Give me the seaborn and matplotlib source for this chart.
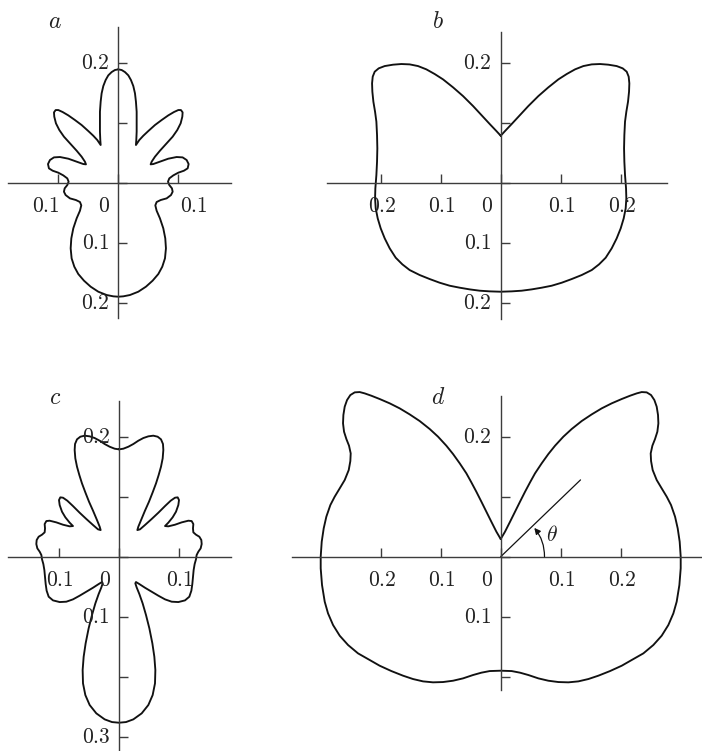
import matplotlib
matplotlib.use("Agg")
import matplotlib.pyplot as plt
import seaborn as sns
from matplotlib.transforms import ScaledTranslation

# ---------------- data (right half of each symmetric pattern) -------------
a_x = [0.0, 0.0056, 0.0111, 0.0167, 0.0211, 0.025, 0.0278, 0.0294, 0.0306, 0.0306, 0.0306, 0.03,
       0.0294, 0.035, 0.0417, 0.05, 0.0611, 0.0722, 0.0833, 0.0928, 0.1, 0.1044, 0.1072, 0.1067,
       0.1039, 0.0983, 0.0906, 0.0806, 0.0694, 0.0611, 0.0556, 0.0539, 0.0583, 0.0694, 0.0833,
       0.0972, 0.1072, 0.1139, 0.1172, 0.1156, 0.1094, 0.1, 0.0917, 0.085, 0.0828, 0.085, 0.0894,
       0.0906, 0.0878, 0.0806, 0.0706, 0.0639, 0.0617, 0.0639, 0.0694, 0.075, 0.0783, 0.0794,
       0.0778, 0.0733, 0.0667, 0.0572, 0.0461, 0.0333, 0.0194, 0.0083, 0.0]
a_y = [0.1889, 0.1878, 0.1844, 0.1789, 0.1711, 0.1611, 0.1489, 0.135, 0.1183, 0.1017, 0.085,
       0.0711, 0.0628, 0.0711, 0.0783, 0.0861, 0.0961, 0.1044, 0.1122, 0.1178, 0.1211, 0.1211,
       0.1172, 0.11, 0.0989, 0.0878, 0.0767, 0.0656, 0.0533, 0.0433, 0.035, 0.0306, 0.0311, 0.035,
       0.04, 0.0428, 0.0422, 0.0378, 0.0311, 0.0239, 0.02, 0.0167, 0.0122, 0.0072, 0.0017, -0.0039,
       -0.0094, -0.015, -0.0206, -0.0261, -0.0289, -0.0322, -0.0378, -0.0467, -0.0594, -0.0761,
       -0.0928, -0.1094, -0.1261, -0.14, -0.1522, -0.1633, -0.1733, -0.1817, -0.1872, -0.1894,
       -0.19]

b_x = [0.0, 0.0072, 0.0183, 0.0322, 0.0461, 0.0628, 0.0794, 0.0961, 0.11, 0.1239, 0.1378, 0.1517,
       0.1656, 0.1794, 0.1933, 0.2033, 0.21, 0.2133, 0.2144, 0.2139, 0.2122, 0.2094, 0.2072,
       0.2061, 0.2056, 0.2061, 0.2072, 0.2089, 0.2094, 0.2083, 0.205, 0.2, 0.1933, 0.185, 0.175,
       0.1639, 0.1517, 0.135, 0.1183, 0.1017, 0.085, 0.0683, 0.0517, 0.035, 0.0183, 0.0]
b_y = [0.0783, 0.0861, 0.0978, 0.1128, 0.1278, 0.1444, 0.1589, 0.1722, 0.1811, 0.1889, 0.1944,
       0.1972, 0.1978, 0.1967, 0.1944, 0.1906, 0.185, 0.1767, 0.1656, 0.1517, 0.135, 0.1183,
       0.1017, 0.0794, 0.0572, 0.035, 0.0128, -0.0094, -0.0261, -0.0428, -0.0594, -0.0761,
       -0.0928, -0.1094, -0.125, -0.1361, -0.1456, -0.1539, -0.1606, -0.1667, -0.1717, -0.175,
       -0.1778, -0.18, -0.1811, -0.1817]

c_x = [0.0, 0.0072, 0.0156, 0.0239, 0.0322, 0.0406, 0.0489, 0.0572, 0.0644, 0.07, 0.0733, 0.0739,
       0.0728, 0.07, 0.0661, 0.0617, 0.0561, 0.05, 0.0433, 0.0367, 0.0322, 0.0306, 0.035, 0.0433,
       0.0544, 0.0656, 0.0767, 0.0861, 0.0933, 0.0978, 0.1, 0.0989, 0.095, 0.0894, 0.0822, 0.0767,
       0.0822, 0.0933, 0.1044, 0.1156, 0.1211, 0.1239, 0.1233, 0.1239, 0.1283, 0.1339, 0.1372,
       0.1378, 0.1361, 0.1322, 0.1294, 0.1283, 0.1261, 0.1244, 0.1233, 0.1222, 0.1206, 0.1172,
       0.11, 0.0989, 0.0878, 0.0767, 0.0656, 0.0544, 0.0433, 0.0339, 0.0283, 0.0272, 0.0294,
       0.0339, 0.0394, 0.045, 0.0506, 0.0556, 0.0589, 0.0606, 0.06, 0.0561, 0.0489, 0.0378,
       0.0239, 0.0117, 0.0]
c_y = [0.1789, 0.18, 0.1833, 0.1878, 0.1933, 0.1978, 0.2006, 0.2017, 0.2, 0.1956, 0.1878, 0.1778,
       0.1639, 0.15, 0.1361, 0.1222, 0.1072, 0.0917, 0.0767, 0.0611, 0.05, 0.0444, 0.0456, 0.0528,
       0.0628, 0.0733, 0.0844, 0.0933, 0.0983, 0.0989, 0.0944, 0.0861, 0.075, 0.0656, 0.0567,
       0.0511, 0.0506, 0.0533, 0.0572, 0.06, 0.0594, 0.0544, 0.0472, 0.0406, 0.0367, 0.0333,
       0.0278, 0.0211, 0.0139, 0.0083, 0.0028, -0.0044, -0.0122, -0.0222, -0.0333, -0.0456,
       -0.0567, -0.0667, -0.0728, -0.0756, -0.075, -0.0711, -0.065, -0.0583, -0.0517, -0.0456,
       -0.0422, -0.0444, -0.0511, -0.0622, -0.0778, -0.0972, -0.1194, -0.1444, -0.1667, -0.1889,
       -0.2111, -0.2306, -0.2472, -0.2611, -0.2711, -0.2756, -0.2767]

d_x = [0.0, 0.0072, 0.0156, 0.0239, 0.0322, 0.0406, 0.0489, 0.0572, 0.0683, 0.0794, 0.0906,
       0.1044, 0.1183, 0.135, 0.1517, 0.1683, 0.185, 0.2017, 0.2156, 0.2267, 0.235, 0.2433, 0.2506,
       0.2561, 0.26, 0.2622, 0.2628, 0.2611, 0.2572, 0.2528, 0.25, 0.2506, 0.2533, 0.26, 0.2683,
       0.2767, 0.2839, 0.2906, 0.295, 0.2983, 0.3, 0.3, 0.2978, 0.2933, 0.2878, 0.2794, 0.2683,
       0.2544, 0.2378, 0.2183, 0.2017, 0.1822, 0.1628, 0.1461, 0.1294, 0.1128, 0.0961, 0.0794,
       0.0628, 0.0461, 0.0322, 0.0183, 0.0]
d_y = [0.0294, 0.0417, 0.0583, 0.075, 0.0917, 0.1083, 0.1239, 0.1389, 0.1556, 0.1711, 0.185, 0.2,
       0.2128, 0.2261, 0.2372, 0.2472, 0.2556, 0.2628, 0.2683, 0.2722, 0.2744, 0.2739, 0.2694,
       0.2611, 0.25, 0.2361, 0.2222, 0.2083, 0.1961, 0.185, 0.1722, 0.1594, 0.1444, 0.1278, 0.1139,
       0.1, 0.0861, 0.0667, 0.0472, 0.025, 0.0, -0.0194, -0.0472, -0.075, -0.0944, -0.1139,
       -0.1317, -0.1472, -0.1611, -0.1722, -0.1817, -0.1906, -0.1983, -0.2039, -0.2078, -0.2094,
       -0.2089, -0.2067, -0.2028, -0.1972, -0.1933, -0.1906, -0.19]

# angle marker in panel d
theta_line_x = [0.0, 0.133]
theta_line_y = [0.0, 0.128]
theta_arc_start = (0.073, 0.0)
theta_arc_end = (0.056, 0.048)
theta_text_pos = (0.086, 0.036)

# ticks and labels
panel_names = ["a", "b", "c", "d"]
a_xticks = [-0.1, 0.0, 0.1]
a_yticks = [-0.2, -0.1, 0.0, 0.1, 0.2]
b_xticks = [-0.2, -0.1, 0.0, 0.1, 0.2]
b_yticks = [-0.2, -0.1, 0.0, 0.1, 0.2]
c_xticks = [-0.1, 0.0, 0.1]
c_yticks = [-0.3, -0.2, -0.1, 0.0, 0.1, 0.2]
d_xticks = [-0.2, -0.1, 0.0, 0.1, 0.2]
d_yticks = [-0.2, -0.1, 0.0, 0.1, 0.2]

a_xlabels = [(-0.1, "0.1"), (0.1, "0.1")]
a_ylabels = [(0.2, "0.2"), (-0.1, "0.1"), (-0.2, "0.2")]
b_xlabels = [(-0.2, "0.2"), (-0.1, "0.1"), (0.1, "0.1"), (0.2, "0.2")]
b_ylabels = [(0.2, "0.2"), (-0.1, "0.1"), (-0.2, "0.2")]
c_xlabels = [(-0.1, "0.1"), (0.1, "0.1")]
c_ylabels = [(0.2, "0.2"), (-0.1, "0.1"), (-0.3, "0.3")]
d_xlabels = [(-0.2, "0.2"), (-0.1, "0.1"), (0.1, "0.1"), (0.2, "0.2")]
d_ylabels = [(0.2, "0.2"), (-0.1, "0.1")]
zero_label = "0"

# ---------------- style / layout ----------------
sns.set_style("white")
plt.rcParams["font.family"] = ["DejaVu Serif"]
plt.rcParams["mathtext.fontset"] = "cm"

W, H, DPI = 702, 751, 100
SCALE = 600.0          # pixels per data unit
AXC = "#3c3c3c"
FS = 15.5
fig = plt.figure(figsize=(W / DPI, H / DPI), dpi=DPI)


def mirror(rx, ry):
    xs = list(rx) + [-v for v in rx[::-1][1:]]
    ys = list(ry) + list(ry[::-1][1:])
    return xs, ys


def off(ax, dx, dy):
    return ax.transData + ScaledTranslation(dx / DPI, dy / DPI, fig.dpi_scale_trans)


def make_axes(origin, xlim, ylim, xticks, yticks):
    ox, oy = origin
    l = ox + xlim[0] * SCALE
    r = ox + xlim[1] * SCALE
    t = oy - ylim[1] * SCALE
    b = oy - ylim[0] * SCALE
    ax = fig.add_axes([l / W, 1 - b / H, (r - l) / W, (b - t) / H])
    ax.set_xlim(xlim)
    ax.set_ylim(ylim)
    ax.patch.set_alpha(0)
    for s in ["top", "right"]:
        ax.spines[s].set_visible(False)
    for s in ["left", "bottom"]:
        ax.spines[s].set_position(("data", 0))
        ax.spines[s].set_color(AXC)
        ax.spines[s].set_linewidth(1.0)
    ax.set_xticks(xticks)
    ax.set_yticks(yticks)
    ax.tick_params(direction="in", length=6.8, width=1.0, color=AXC,
                   bottom=True, left=True, labelbottom=False, labelleft=False)
    ax.grid(False)
    return ax


def curve(ax, rx, ry):
    xs, ys = mirror(rx, ry)
    sns.lineplot(x=xs, y=ys, sort=False, estimator=None, ax=ax, color="#111111",
                 linewidth=1.35, clip_on=False, solid_joinstyle="round",
                 solid_capstyle="round")


def labels(ax, xl, yl, xl_align="center", xl_dx=()):
    for i, (v, s) in enumerate(xl):
        ha = xl_align if isinstance(xl_align, str) else xl_align[i]
        dx = xl_dx[i] if len(xl_dx) > i else 0
        ax.text(v, 0, f"${s}$", transform=off(ax, dx, -12), ha=ha, va="top",
                fontsize=FS, color="#222222", clip_on=False)
    ax.text(0, 0, f"${zero_label}$", transform=off(ax, -8, -12), ha="right", va="top",
            fontsize=FS, color="#222222", clip_on=False)
    for v, s in yl:
        ax.text(0, v, f"${s}$", transform=off(ax, -9, 0), ha="right", va="center",
                fontsize=FS, color="#222222", clip_on=False)


def panel_label(ax, name, x, y):
    ax.text(x, y, f"${name}$", fontsize=17, ha="center", va="center",
            color="#222222", clip_on=False)


# panel a
ax_a = make_axes((118.3, 182.7), (-0.1833, 0.1883), (-0.225, 0.26), a_xticks, a_yticks)
curve(ax_a, a_x, a_y)
labels(ax_a, a_xlabels, a_ylabels, xl_align=["right", "left"], xl_dx=[1, 2])
panel_label(ax_a, panel_names[0], -0.105, 0.268)

# panel b
ax_b = make_axes((500.7, 182.7), (-0.290, 0.277), (-0.227, 0.251), b_xticks, b_yticks)
curve(ax_b, b_x, b_y)
labels(ax_b, b_xlabels, b_ylabels, xl_dx=[2, 1, 1, 2])
panel_label(ax_b, panel_names[1], -0.104, 0.268)

# panel c
ax_c = make_axes((119.0, 556.7), (-0.185, 0.187), (-0.324, 0.259), c_xticks, c_yticks)
curve(ax_c, c_x, c_y)
labels(ax_c, c_xlabels, c_ylabels, xl_dx=[1, 1])
panel_label(ax_c, panel_names[2], -0.107, 0.265)

# panel d
ax_d = make_axes((500.7, 556.7), (-0.348, 0.336), (-0.222, 0.268), d_xticks, d_yticks)
curve(ax_d, d_x, d_y)
labels(ax_d, d_xlabels, d_ylabels, xl_dx=[2, 1, 1, 2])
panel_label(ax_d, panel_names[3], -0.1045, 0.266)
ax_d.plot(theta_line_x, theta_line_y, color="#111111", linewidth=0.9)
ax_d.annotate("", xy=theta_arc_end, xytext=theta_arc_start,
              arrowprops=dict(arrowstyle="-|>", connectionstyle="arc3,rad=0.18",
                              color="#111111", lw=0.9, shrinkA=0, shrinkB=0,
                              mutation_scale=9))
ax_d.text(*theta_text_pos, r"$\theta$", fontsize=FS, ha="center", va="center", color="#222222")

fig.savefig("out.png", dpi=DPI)
